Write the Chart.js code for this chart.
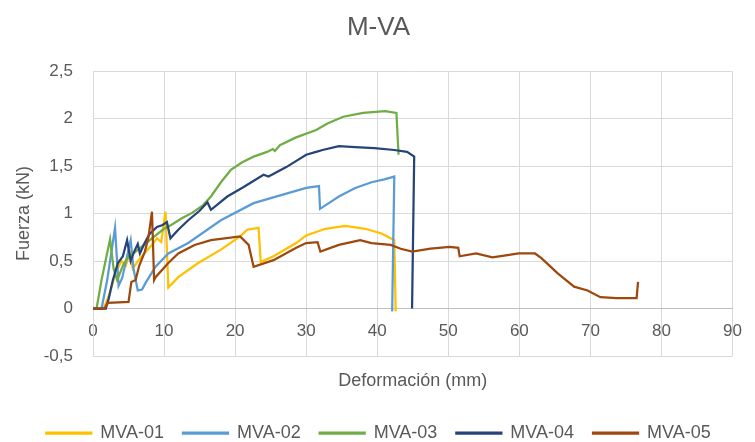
<!DOCTYPE html>
<html>
<head>
<meta charset="utf-8">
<script src="https://cdn.jsdelivr.net/npm/chart.js@4.4.1/dist/chart.umd.min.js"></script>
<style>
  html, body { margin: 0; padding: 0; background: #ffffff; }
  #wrap { width: 755px; height: 442px; }
</style>
</head>
<body>
<div id="wrap"><canvas id="chart" width="755" height="442"></canvas></div>
<script>
// Ensayos M-VA: fuerza (kN) frente a deformación (mm)
const seriesNames = ['MVA-01', 'MVA-02', 'MVA-03', 'MVA-04', 'MVA-05'];
const seriesColors = ['#FFC000', '#5B9BD5', '#70AD47', '#264478', '#9E480E'];

const mva01X = [0, 1.5, 2.3, 3.2, 4.0, 4.6, 5.2, 5.6, 6.3, 7.2, 8.2, 9.0, 9.6, 10.2, 10.6, 12.0, 14.8, 18.0, 20.7, 21.7, 23.3, 23.6, 25.4, 28.6, 30.0, 32.7, 35.5, 38.3, 40.6, 42.4, 42.6];
const mva01Y = [0, 0, 0.15, 0.38, 0.5, 0.45, 0.58, 0.42, 0.5, 0.58, 0.66, 0.74, 0.7, 1.02, 0.22, 0.33, 0.48, 0.62, 0.76, 0.83, 0.85, 0.49, 0.55, 0.69, 0.77, 0.84, 0.87, 0.84, 0.79, 0.72, -0.03];

const mva02X = [0, 1.2, 2.0, 3.1, 3.6, 4.1, 4.7, 5.3, 5.7, 6.3, 6.9, 7.4, 8.8, 10.6, 13.4, 18.0, 22.6, 27.2, 30.0, 31.8, 31.95, 34.6, 36.9, 39.2, 41.0, 42.4, 42.1];
const mva02Y = [0, 0, 0.3, 0.85, 0.24, 0.32, 0.52, 0.72, 0.42, 0.19, 0.2, 0.27, 0.44, 0.58, 0.69, 0.93, 1.11, 1.21, 1.27, 1.29, 1.05, 1.18, 1.27, 1.33, 1.36, 1.39, -0.03];

const mva03X = [0, 0.5, 1.2, 2.4, 2.9, 3.4, 4.2, 5.0, 6.0, 7.0, 8.0, 9.0, 10.0, 11.0, 12.5, 14.0, 15.5, 16.6, 18.0, 19.4, 21.0, 22.6, 24.5, 25.3, 25.6, 26.3, 28.5, 31.4, 33.0, 35.2, 38.0, 41.1, 42.7, 43.0];
const mva03Y = [0, 0, 0.3, 0.73, 0.42, 0.3, 0.45, 0.55, 0.6, 0.66, 0.72, 0.78, 0.84, 0.88, 0.95, 1.01, 1.09, 1.18, 1.33, 1.46, 1.54, 1.6, 1.65, 1.68, 1.66, 1.72, 1.8, 1.88, 1.95, 2.02, 2.06, 2.08, 2.06, 1.62];

const mva04X = [0, 1.8, 2.2, 2.8, 3.5, 4.2, 4.8, 5.3, 5.8, 6.3, 6.6, 7.2, 7.9, 9.0, 9.8, 10.4, 10.9, 12.0, 13.4, 15.0, 16.1, 16.6, 18.9, 21.2, 24.0, 24.7, 27.2, 30.0, 31.4, 32.3, 34.6, 36.9, 39.6, 42.4, 44.2, 45.2, 44.9];
const mva04Y = [0, 0, 0.1, 0.3, 0.48, 0.55, 0.72, 0.5, 0.6, 0.68, 0.58, 0.68, 0.78, 0.86, 0.88, 0.91, 0.74, 0.83, 0.93, 1.03, 1.12, 1.04, 1.18, 1.28, 1.41, 1.39, 1.49, 1.62, 1.65, 1.67, 1.71, 1.70, 1.69, 1.67, 1.65, 1.60, 0];

const mva05X = [0, 1.6, 2.1, 5.0, 5.4, 6.0, 6.5, 7.3, 7.8, 8.3, 8.6, 8.8, 10.6, 12.0, 14.3, 16.6, 20.7, 21.9, 22.6, 25.4, 28.6, 30.0, 31.6, 32.0, 34.6, 37.6, 39.2, 41.9, 43.3, 44.9, 47.5, 50.2, 51.4, 51.6, 53.9, 56.2, 58.1, 59.9, 62.2, 63.1, 65.4, 67.7, 69.6, 71.4, 73.7, 76.5, 76.7];
const mva05Y = [0, 0, 0.06, 0.07, 0.28, 0.3, 0.45, 0.6, 0.75, 1.02, 0.3, 0.33, 0.48, 0.58, 0.67, 0.72, 0.76, 0.67, 0.44, 0.51, 0.64, 0.69, 0.7, 0.6, 0.67, 0.72, 0.69, 0.67, 0.63, 0.6, 0.63, 0.65, 0.64, 0.55, 0.58, 0.54, 0.56, 0.58, 0.58, 0.53, 0.37, 0.23, 0.19, 0.12, 0.11, 0.11, 0.28];

const xSeries = [mva01X, mva02X, mva03X, mva04X, mva05X];
const ySeries = [mva01Y, mva02Y, mva03Y, mva04Y, mva05Y];

const FONT = "'Liberation Sans', Arial, sans-serif";
const TEXT = '#595959';
const GRID = '#d9d9d9';

const toComma = v => String(v).replace('.', ',');

const datasets = seriesNames.map((name, i) => ({
  label: name,
  data: xSeries[i].map((x, k) => ({ x: x, y: ySeries[i][k] })),
  borderColor: seriesColors[i],
  backgroundColor: seriesColors[i],
  borderWidth: 2.25,
  pointRadius: 0,
  pointHoverRadius: 0,
  showLine: true,
  tension: 0,
  xAxisID: 'x',
  yAxisID: 'y',
  order: seriesNames.length - i
}));

new Chart(document.getElementById('chart'), {
  type: 'scatter',
  data: { datasets: datasets },
  options: {
    responsive: false,
    devicePixelRatio: 1,
    animation: false,
    layout: { padding: { left: 13, right: 11, top: 0, bottom: 0 } },
    scales: {
      x: {
        type: 'linear',
        position: { y: 0 },
        min: 0,
        max: 90,
        grid: { color: GRID, lineWidth: 1, drawTicks: false },
        border: { display: true, color: '#bfbfbf', width: 1 },
        ticks: {
          stepSize: 10,
          padding: 13,
          color: TEXT,
          font: { family: FONT, size: 17 },
          maxRotation: 0,
          autoSkip: false,
          callback: v => toComma(v)
        }
      },
      xTitle: {
        type: 'linear',
        axis: 'x',
        position: 'bottom',
        grid: { display: false, drawTicks: false },
        border: { display: false },
        ticks: { display: false },
        title: {
          display: true,
          text: 'Deformación (mm)',
          color: TEXT,
          font: { family: FONT, size: 18 },
          padding: { top: 0, bottom: 13 }
        },
        afterFit: s => { s.height = 49; }
      },
      y: {
        type: 'linear',
        position: 'left',
        min: -0.5,
        max: 2.5,
        grid: { color: GRID, lineWidth: 1, drawTicks: false },
        border: { display: true, color: GRID, width: 1 },
        ticks: {
          stepSize: 0.5,
          padding: 20,
          color: TEXT,
          font: { family: FONT, size: 17 },
          callback: v => toComma(v)
        },
        title: {
          display: true,
          text: 'Fuerza (kN)',
          color: TEXT,
          font: { family: FONT, size: 18 },
          padding: { top: 0, bottom: 0 }
        },
        afterFit: s => { s.width = 80; }
      }
    },
    plugins: {
      title: {
        display: true,
        text: 'M-VA',
        color: TEXT,
        font: { family: FONT, size: 26, weight: 'normal' },
        padding: { top: 12, bottom: 28 }
      },
      legend: {
        display: true,
        position: 'bottom',
        maxHeight: 37,
        labels: {
          boxWidth: 45,
          boxHeight: 1,
          padding: 19,
          color: TEXT,
          font: { family: FONT, size: 18 },
          sort: (a, b) => a.datasetIndex - b.datasetIndex
        }
      },
      tooltip: { enabled: false }
    }
  }
});
</script>
</body>
</html>
